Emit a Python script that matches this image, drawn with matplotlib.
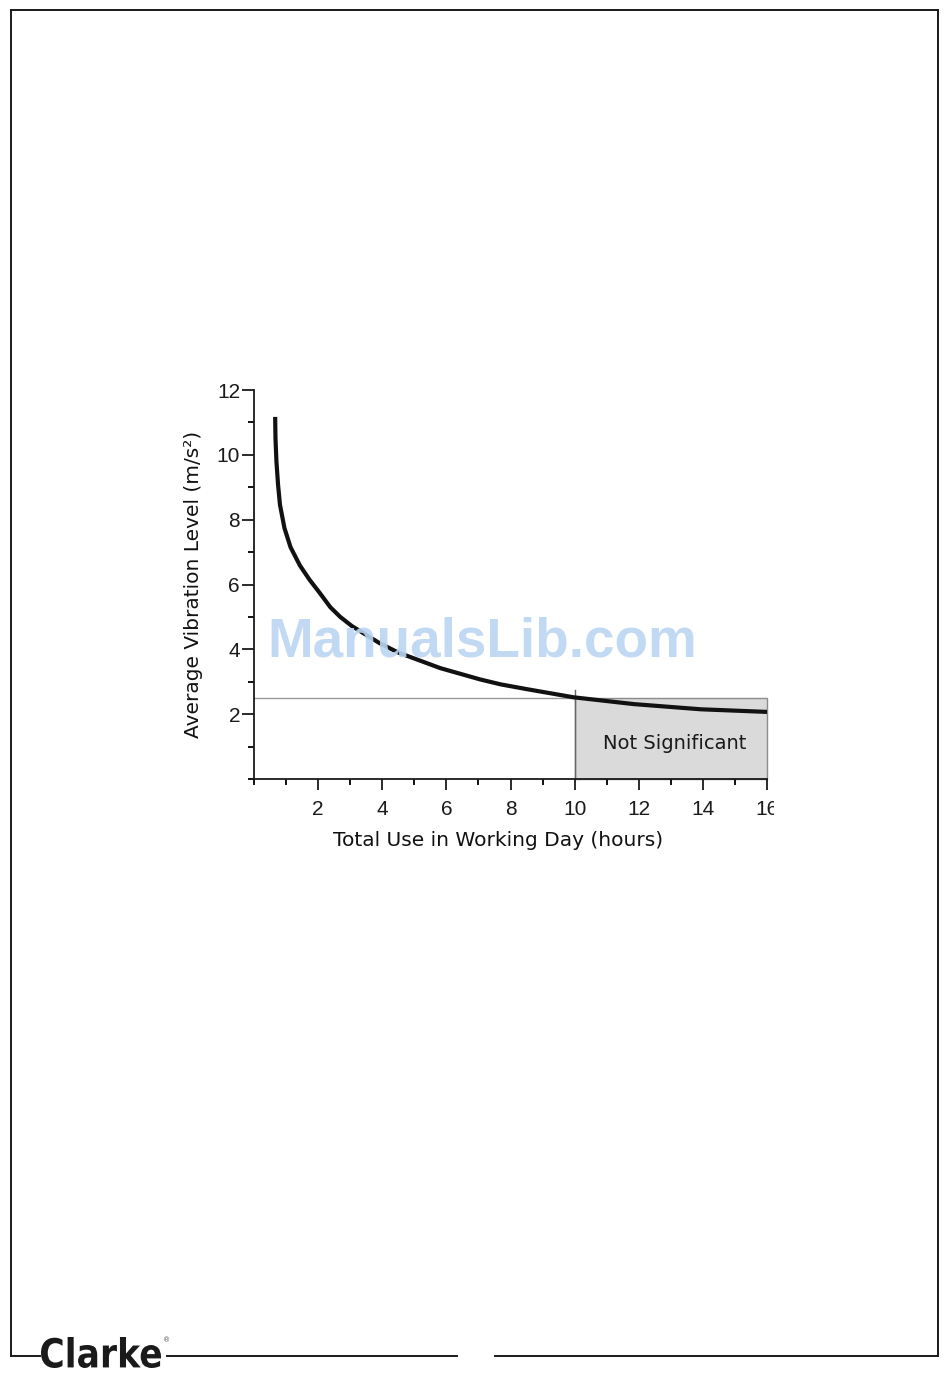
import matplotlib
matplotlib.use("Agg")
import matplotlib.pyplot as plt
from matplotlib.patches import Rectangle, PathPatch
from matplotlib.lines import Line2D
from matplotlib.ticker import MultipleLocator
from matplotlib.transforms import Bbox, Affine2D
from matplotlib.textpath import TextPath
from matplotlib.font_manager import FontProperties

# values
hours = [0.66, 0.67, 0.70, 0.75, 0.81, 0.95, 1.14, 1.43, 1.73, 2.05, 2.38,
         2.69, 3.05, 3.9, 4.5, 5.81, 7.06, 7.69, 8.52, 9.97, 11.85, 13.94, 16.0]
level = [11.17, 10.51, 9.79, 9.08, 8.46, 7.74, 7.15, 6.59, 6.15, 5.74, 5.30,
         5.00, 4.72, 4.20, 3.90, 3.42, 3.07, 2.92, 2.77, 2.52, 2.31, 2.15, 2.07]

limit_level = 2.5
limit_hours = 10
x_ticks = [2, 4, 6, 8, 10, 12, 14, 16]
y_ticks = [2, 4, 6, 8, 10, 12]

W, H = 950, 1392
fig = plt.figure(figsize=(W / 100, H / 100), dpi=100)
fig.patch.set_facecolor("white")

# page frame, given in pixels from the top-left corner
def seg(x0, y0, x1, y1, lw=1.4):
    fig.add_artist(Line2D([x0 / W, x1 / W], [1 - y0 / H, 1 - y1 / H],
                          color="#1a1a1a", lw=lw, transform=fig.transFigure))

seg(11, 10, 938, 10)
seg(11, 10, 11, 1356)
seg(938, 10, 938, 1356)
seg(11, 1356, 40, 1356)
seg(167, 1356, 457, 1356)
seg(495, 1356, 938, 1356)

# condensed heavy logo: squeeze a bold text path into the logo box
logo = TextPath((0, 0), "Clarke", size=40,
                prop=FontProperties(family="DejaVu Sans", weight="bold"))
ext = logo.get_extents()
sx = 120 / ext.width
sy = 31 / ext.height
tr = Affine2D().translate(-ext.x0, -ext.y0).scale(sx, sy).translate(41, H - 1368)
fig.add_artist(PathPatch(logo, facecolor="#1a1a1a", edgecolor="none", transform=tr))
fig.text(163 / W, 1 - 1340 / H, "\u00ae", fontsize=5, color="#555555",
         ha="left", va="center")

ax = fig.add_axes([254 / W, 1 - 779 / H, 513 / W, 389 / H])
ax.set_xlim(0, 16)
ax.set_ylim(0, 12)
for s in ["top", "right"]:
    ax.spines[s].set_visible(False)
for s in ["left", "bottom"]:
    ax.spines[s].set_linewidth(1.3)
    ax.spines[s].set_color("#1a1a1a")

ax.set_xticks(x_ticks)
ax.set_yticks(y_ticks)
ax.xaxis.set_minor_locator(MultipleLocator(1))
ax.yaxis.set_minor_locator(MultipleLocator(1))
ax.tick_params(axis="y", which="major", length=9, width=1.3, pad=1,
               labelsize=15, colors="#1a1a1a")
ax.tick_params(axis="y", which="minor", length=4.5, width=1.3)
ax.tick_params(axis="x", which="major", length=8, width=1.3, pad=7,
               labelsize=15, colors="#1a1a1a")
ax.tick_params(axis="x", which="minor", length=4, width=1.3)
for lab in ax.get_xticklabels() + ax.get_yticklabels():
    lab.set_family(["Liberation Sans", "DejaVu Sans"])

# threshold line and "not significant" box
ax.plot([0, limit_hours], [limit_level, limit_level], color="#999999", lw=1, zorder=2)
ax.add_patch(Rectangle((limit_hours, 0), 16 - limit_hours, limit_level,
                       facecolor="#dadada", edgecolor="#8c8c8c", lw=1, zorder=1,
                       clip_on=False))
ax.plot([limit_hours, limit_hours], [0, 2.75], color="#666666", lw=1, zorder=2)
ax.text(13.125, 1.08, "Not Significant", ha="center", va="center", fontsize=14,
        color="#1a1a1a", family=["DejaVu Sans"])

ax.plot(hours, level, color="#111111", lw=3, solid_capstyle="butt",
        solid_joinstyle="round", zorder=3)

ax.set_xlabel("Total Use in Working Day (hours)", fontsize=14.5, labelpad=9,
              color="#111111", family=["DejaVu Sans"])
ax.xaxis.label.set_x((498 - 254) / 513)
ax.set_ylabel("Average Vibration Level (m/s\u00b2)", fontsize=14.5, labelpad=10,
              color="#111111", family=["DejaVu Sans"])

fig.text(482 / W, 1 - 643 / H, "ManualsLib.com", fontsize=39.5, fontweight="bold",
         family=["Liberation Sans", "DejaVu Sans"], color="#bcd5f2", alpha=0.9,
         ha="center", va="center", zorder=10)

# the "16" label is cut off at the right in the reference
fig.canvas.draw()
clip = Bbox.from_extents(0, 0, 774, H)
for lab in ax.get_xticklabels():
    lab.set_clip_box(clip)
    lab.set_clip_on(True)

fig.savefig("out.png", dpi=100, facecolor="white")
